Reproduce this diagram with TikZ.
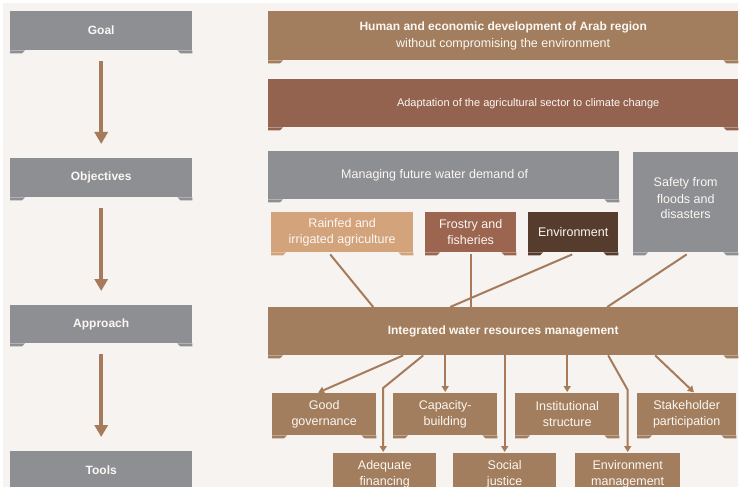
\documentclass[tikz,border=0pt]{standalone}
\usepackage{fontspec}
\setmainfont{Liberation Sans}
\usetikzlibrary{arrows.meta,calc}
\definecolor{bgc}{HTML}{F7F3F0}
\definecolor{greyb}{HTML}{8E8F93}
\definecolor{tanb}{HTML}{A27E5E}
\definecolor{adaptc}{HTML}{94634F}
\definecolor{rainc}{HTML}{D3A37B}
\definecolor{frostc}{HTML}{9B6550}
\definecolor{envc}{HTML}{553C2D}
\definecolor{arrc}{HTML}{A67B5B}
\definecolor{txtc}{HTML}{FBF7F2}
\newcommand\boxfeet[2]{%
  \fill[#2] (#1.south west) -- ++(0pt,-3pt) -- ++(12pt,0pt) -- ++(3pt,3pt) -- cycle;
  \fill[#2] (#1.south east) -- ++(0pt,-3pt) -- ++(-12pt,0pt) -- ++(-3pt,3pt) -- cycle;}
\begin{document}
\begin{tikzpicture}[x=1pt,y=-1pt,
  box/.style={anchor=north west, inner sep=0pt, text=txtc, align=center,
    font=\fontsize{12.5}{16.5}\selectfont},
  gbox/.style={box, fill=greyb},
  tbox/.style={box, fill=tanb},
  lab/.style={gbox, minimum width=182pt, font=\bfseries\fontsize{12}{15}\selectfont},
  mainarrow/.style={draw=arrc, line width=4.5pt, -{Triangle[width=13pt,length=12pt]},
    shorten <=11pt, shorten >=14pt},
  conn/.style={draw=arrc, line width=2pt},
  subarrow/.style={conn, -{Triangle[width=7pt,length=6pt]}}]
\clip (0,0) rectangle (740,487);
\fill[white] (0,0) rectangle (740,487);
\fill[bgc] (3,3) rectangle (738,487);

% left column
\node[lab, minimum height=39pt] (goal) at (10,11) {Goal};
\node[lab, minimum height=39pt] (obj) at (10,158) {Objectives};
\node[lab, minimum height=38pt] (appr) at (10,305) {Approach};
\node[lab, minimum height=40pt] (tools) at (10,451) {\raisebox{3pt}{Tools}};
\boxfeet{goal}{greyb}
\boxfeet{obj}{greyb}
\boxfeet{appr}{greyb}

\draw[mainarrow] (goal) -- (obj);
\draw[mainarrow] (obj) -- (appr);
\draw[mainarrow] (appr) -- (tools);

% right column
\node[tbox, minimum width=470pt, minimum height=49pt] (goalr) at (268,11)
  {{\bfseries\fontsize{12}{16}\selectfont Human and economic development of Arab region}\\without compromising the environment};
\node[box, fill=adaptc, minimum width=470pt, minimum height=48pt, font=\fontsize{11}{14}\selectfont] (adapt) at (268,79)
  {\hspace*{50pt}Adaptation of the agricultural sector to climate change};
\node[gbox, minimum width=351pt, minimum height=48pt] (manage) at (268,151)
  {\raisebox{3pt}{Managing future water demand of}\hspace*{18pt}};
\node[gbox, minimum width=105pt, minimum height=100pt] (safety) at (633,152)
  {\raisebox{8pt}{\shortstack{Safety from\\[2.5pt]floods and\\[2.5pt]disasters}}};
\node[box, fill=rainc, minimum width=142pt, minimum height=40pt] (rain) at (271,212)
  {Rainfed and\\irrigated agriculture};
\node[box, fill=frostc, minimum width=91pt, minimum height=40pt] (frost) at (425,212)
  {Frostry and\\fisheries};
\node[box, fill=envc, minimum width=90pt, minimum height=40pt] (env) at (528,212)
  {Environment};
\node[tbox, minimum width=470pt, minimum height=48pt, font=\bfseries\fontsize{12}{15}\selectfont] (iwrm) at (268,307)
  {Integrated water resources management};
\node[tbox, minimum width=104pt, minimum height=42pt] (good) at (272,393) {Good\\governance};
\node[tbox, minimum width=104pt, minimum height=42pt] (cap) at (393,393) {Capacity-\\building};
\node[tbox, minimum width=104pt, minimum height=42pt] (inst) at (515,393) {Institutional\\structure};
\node[tbox, minimum width=99pt, minimum height=42pt] (stake) at (637,393) {Stakeholder\\participation};
\node[tbox, minimum width=103pt, minimum height=42pt] (adeq) at (333,453) {Adequate\\financing};
\node[tbox, minimum width=103pt, minimum height=42pt] (social) at (453,453) {Social\\justice};
\node[tbox, minimum width=105pt, minimum height=42pt] (envm) at (575,453) {Environment\\management};

\boxfeet{goalr}{tanb}
\boxfeet{adapt}{adaptc}
\boxfeet{manage}{greyb}
\boxfeet{safety}{greyb}
\boxfeet{rain}{rainc}
\boxfeet{frost}{frostc}
\boxfeet{env}{envc}
\boxfeet{iwrm}{tanb}
\boxfeet{good}{tanb}
\boxfeet{cap}{tanb}
\boxfeet{inst}{tanb}
\boxfeet{stake}{tanb}

% connectors into IWRM
\draw[conn] ([xshift=-12pt,yshift=-2pt]rain.south) -- ([xshift=-130pt]iwrm.north);
\draw[conn] ([yshift=-2pt]frost.south) -- (frost.south |- iwrm.north);
\draw[conn] ([xshift=-1pt,yshift=-2pt]env.south) -- ([xshift=-53pt]iwrm.north);
\draw[conn] ([xshift=1pt,yshift=-2pt]safety.south) -- ([xshift=104pt]iwrm.north);

% arrows out of IWRM
\draw[subarrow, shorten >=1pt] ([xshift=-100pt]iwrm.south) -- ([xshift=-7pt]good.north);
\draw[subarrow, shorten >=1pt] ([xshift=-80pt]iwrm.south) -- ($(adeq.north)+(-1.5pt,65pt)$) -- ([xshift=-1.5pt]adeq.north);
\draw[subarrow, shorten >=1pt] (iwrm.south -| cap.north) -- (cap.north);
\draw[subarrow, shorten >=1pt] (iwrm.south -| social.north) -- (social.north);
\draw[subarrow, shorten >=1pt] (iwrm.south -| inst.north) -- (inst.north);
\draw[subarrow, shorten >=1pt] ([xshift=105pt]iwrm.south) -- ($(envm.north)+(0pt,63pt)$) -- (envm.north);
\draw[subarrow, shorten >=1pt] ([xshift=152pt]iwrm.south) -- ([xshift=8pt]stake.north);
\end{tikzpicture}
\end{document}
